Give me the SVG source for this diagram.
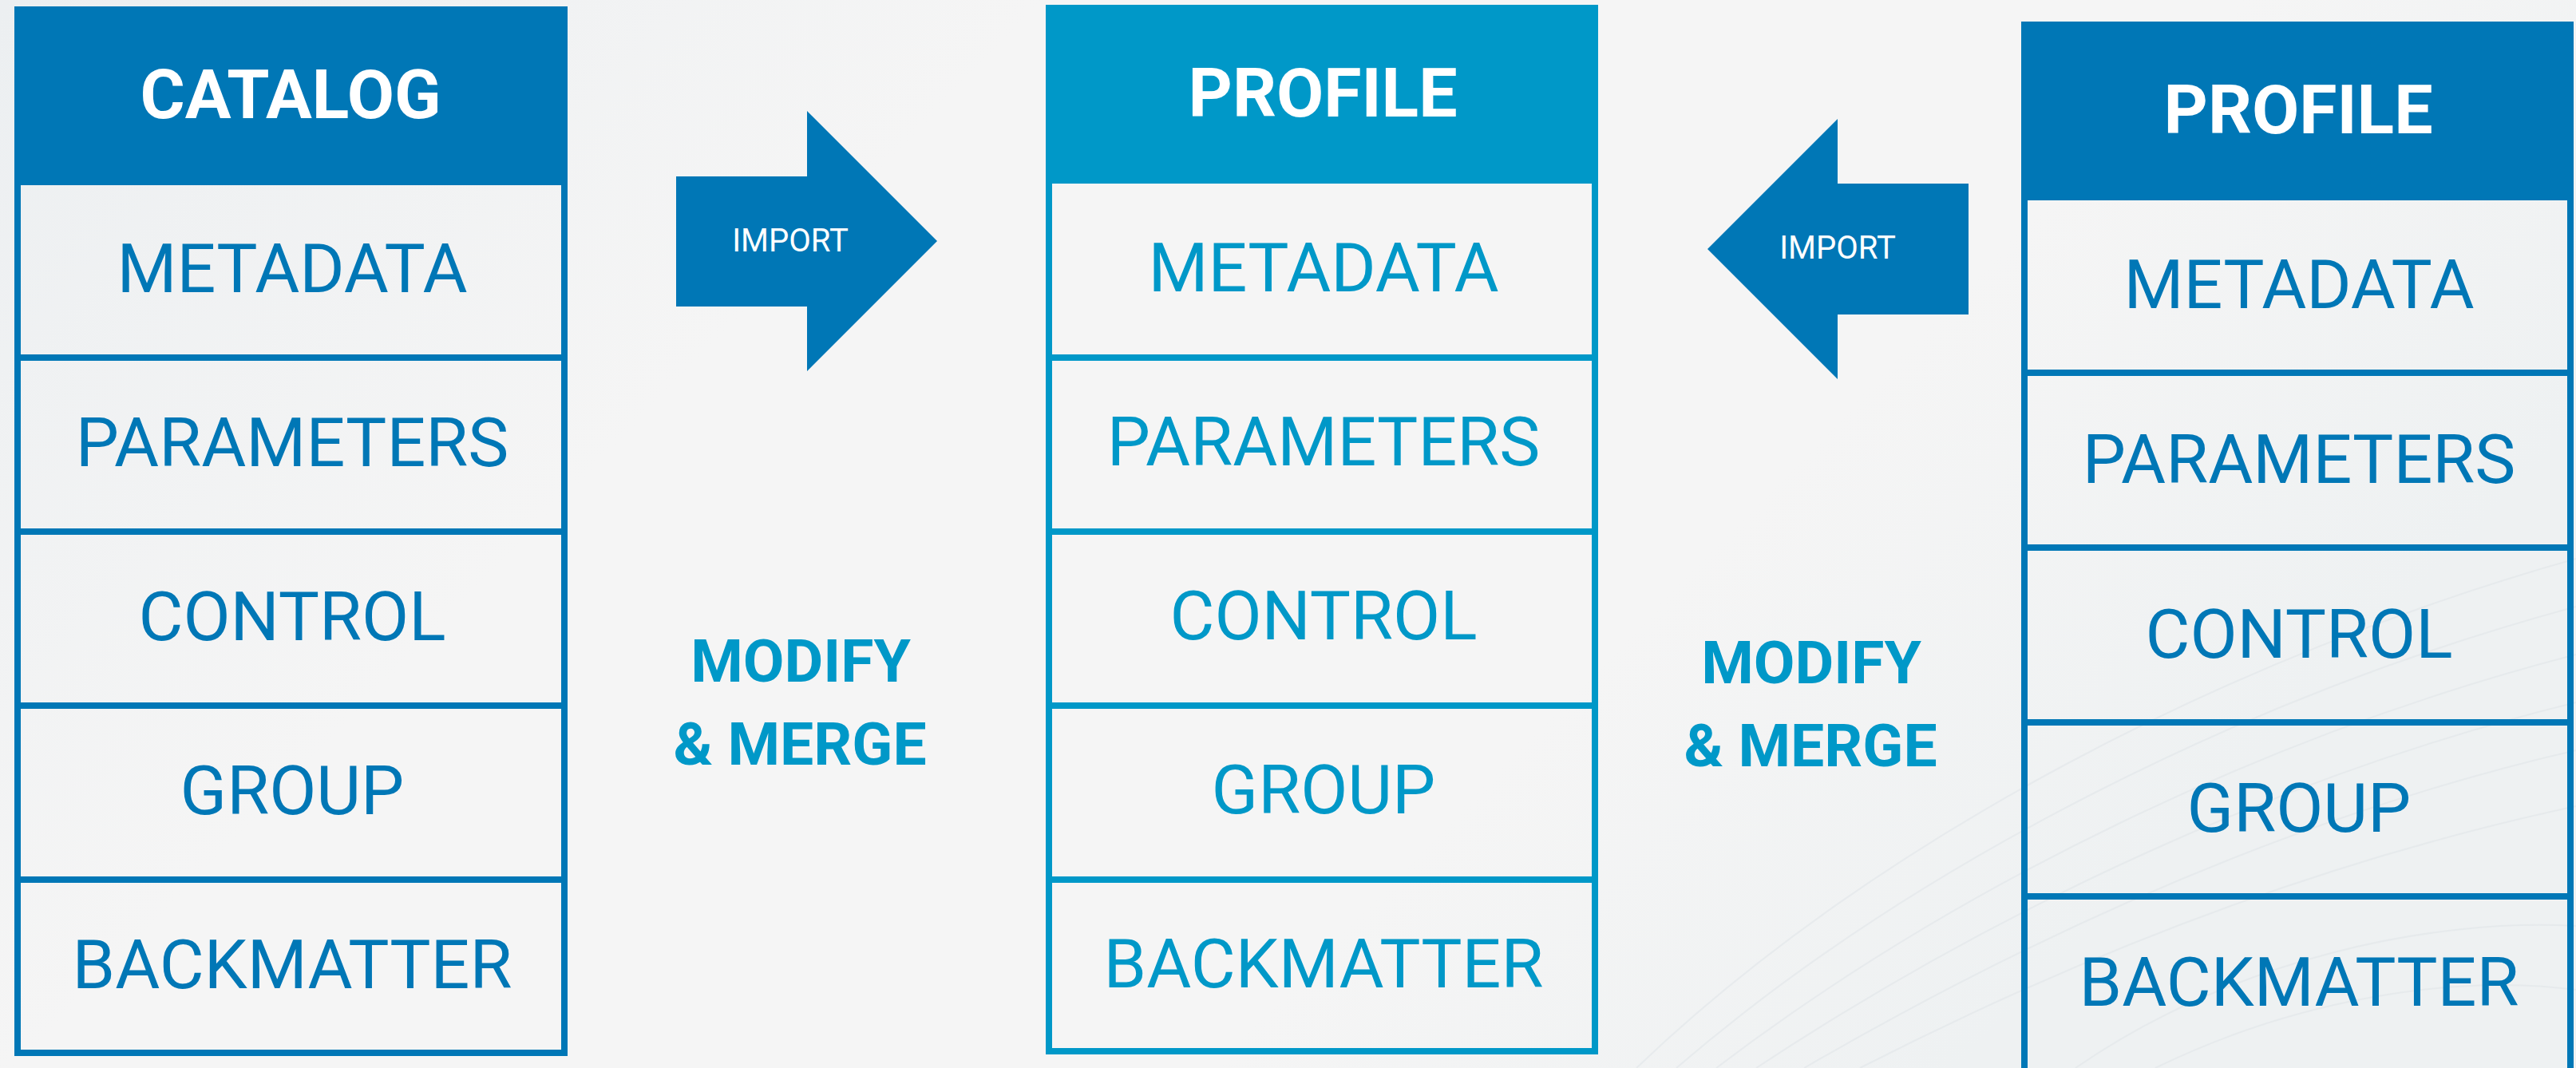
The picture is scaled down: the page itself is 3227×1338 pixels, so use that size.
<svg xmlns="http://www.w3.org/2000/svg" width="3227" height="1338" viewBox="0 0 3227 1338">
  <defs>
    <linearGradient id="bg" x1="0" y1="0" x2="1" y2="0.4">
      <stop offset="0" stop-color="#ECEFF1"/>
      <stop offset="0.35" stop-color="#F5F5F5"/>
      <stop offset="0.75" stop-color="#F5F5F5"/>
      <stop offset="1" stop-color="#EEF1F2"/>
    </linearGradient>
    <style>
      .lbl { font-family: Roboto, "Liberation Sans", sans-serif; font-size: 86px; text-anchor: middle; }
      .hdr { font-family: Roboto, "Liberation Sans", sans-serif; font-size: 86px; font-weight: 700; text-anchor: middle; fill: #FFFFFF; }
      .dark .lbl { fill: #0077B6; }
      .light .lbl { fill: #0098C8; }
      .dark .frame { fill: none; stroke: #0077B6; stroke-width: 8; }
      .light .frame { fill: none; stroke: #0098C8; stroke-width: 8; }
      .dark .head { fill: #0077B6; }
      .light .head { fill: #0098C8; }
      .arrow { fill: #0077B6; }
      .imp { font-family: Roboto, "Liberation Sans", sans-serif; font-size: 40px; text-anchor: middle; fill: #FFFFFF; }
      .mm { font-family: Roboto, "Liberation Sans", sans-serif; font-size: 75px; font-weight: 700; text-anchor: middle; fill: #0098C8; }
      .wave { fill: none; stroke: #E2E7E9; stroke-width: 2; opacity: 0.7; }
    </style>
  </defs>

  <rect x="0" y="0" width="3227" height="1338" fill="url(#bg)"/>
  <g id="background-waves">
    <path class="wave" d="M2050 1338 C2350 1050 2800 820 3227 700"/>
    <path class="wave" d="M2100 1338 C2400 1080 2820 870 3227 760"/>
    <path class="wave" d="M2150 1338 C2450 1110 2840 920 3227 820"/>
    <path class="wave" d="M2200 1338 C2500 1140 2860 970 3227 880"/>
    <path class="wave" d="M2260 1338 C2550 1170 2880 1020 3227 940"/>
    <path class="wave" d="M2330 1338 C2600 1200 2900 1080 3227 1010"/>
    <path class="wave" d="M2600 1338 C2800 1200 3050 1150 3227 1160"/>
    <path class="wave" d="M2700 1338 C2880 1250 3080 1220 3227 1240"/>
  </g>

  <g id="catalog" class="dark">
    <rect class="head" x="18" y="8" width="693" height="224"/>
    <rect class="frame" x="22" y="12" width="685" height="1307"/>
    <path class="frame" d="M18 448H711M18 666H711M18 884H711M18 1102H711"/>
    <text class="hdr" x="364" y="148">CATALOG</text>
    <text class="lbl" x="366" y="366">METADATA</text>
    <text class="lbl" x="366" y="584">PARAMETERS</text>
    <text class="lbl" x="366" y="802">CONTROL</text>
    <text class="lbl" x="366" y="1020">GROUP</text>
    <text class="lbl" x="366" y="1238">BACKMATTER</text>
  </g>

  <g id="profile-middle" class="light">
    <rect class="head" x="1310" y="6" width="692" height="224"/>
    <rect class="frame" x="1314" y="10" width="684" height="1307"/>
    <path class="frame" d="M1310 448H2002M1310 666H2002M1310 884H2002M1310 1102H2002"/>
    <text class="hdr" x="1657" y="146">PROFILE</text>
    <text class="lbl" x="1658" y="365">METADATA</text>
    <text class="lbl" x="1658" y="583">PARAMETERS</text>
    <text class="lbl" x="1658" y="801">CONTROL</text>
    <text class="lbl" x="1658" y="1019">GROUP</text>
    <text class="lbl" x="1658" y="1237">BACKMATTER</text>
  </g>

  <g id="profile-right" class="dark">
    <rect class="head" x="2532" y="27" width="692" height="224"/>
    <rect class="frame" x="2536" y="31" width="684" height="1320"/>
    <path class="frame" d="M2532 467H3224M2532 686H3224M2532 905H3224M2532 1123H3224"/>
    <text class="hdr" x="2879" y="167">PROFILE</text>
    <text class="lbl" x="2880" y="386">METADATA</text>
    <text class="lbl" x="2880" y="605">PARAMETERS</text>
    <text class="lbl" x="2880" y="824">CONTROL</text>
    <text class="lbl" x="2880" y="1042">GROUP</text>
    <text class="lbl" x="2880" y="1260">BACKMATTER</text>
  </g>

  <g id="connectors">
    <g id="import-1">
      <polygon class="arrow" points="847,221 1011,221 1011,139 1174,302 1011,465 1011,384 847,384"/>
      <text class="imp" x="990" y="315">IMPORT</text>
    </g>
    <g id="import-2">
      <polygon class="arrow" points="2139,312 2302,149 2302,230 2466,230 2466,394 2302,394 2302,475"/>
      <text class="imp" x="2302" y="324">IMPORT</text>
    </g>
  </g>

  <g id="modify-merge-1">
    <text class="mm" x="1003" y="854">MODIFY</text>
    <text class="mm" x="1002" y="958">&amp; MERGE</text>
  </g>
  <g id="modify-merge-2">
    <text class="mm" x="2269" y="856">MODIFY</text>
    <text class="mm" x="2268" y="960">&amp; MERGE</text>
  </g>
</svg>
